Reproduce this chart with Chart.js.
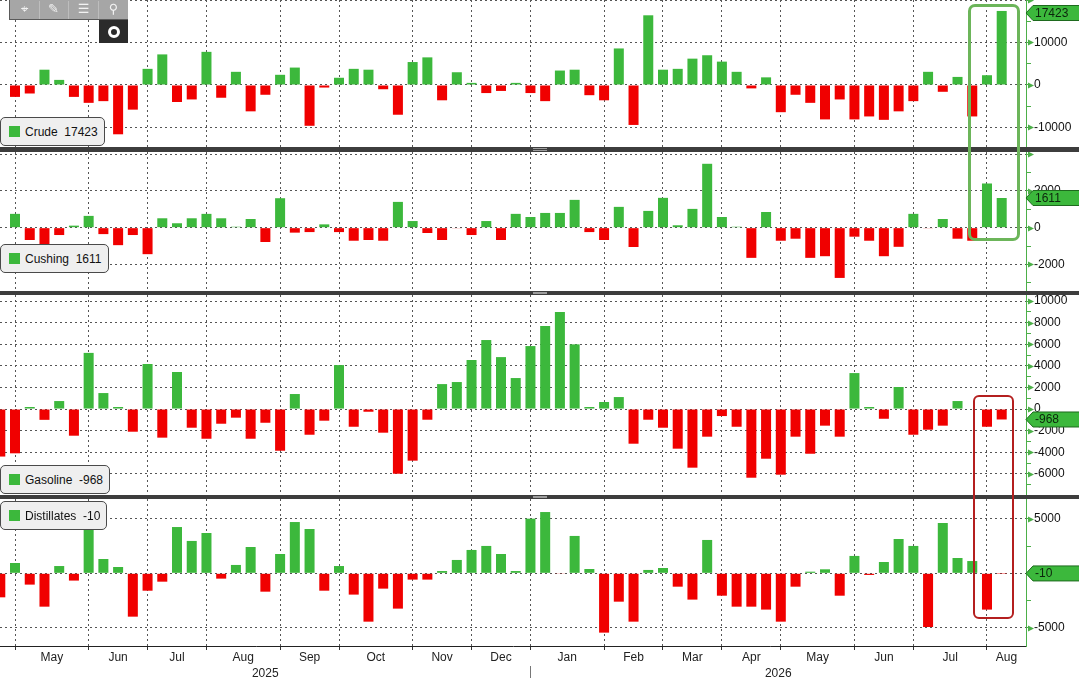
<!DOCTYPE html>
<html>
<head>
<meta charset="utf-8">
<title>Crude, Cushing, Gasoline, Distillates - weekly change</title>
<script src="https://cdn.jsdelivr.net/npm/chart.js@4.4.1/dist/chart.umd.min.js"></script>
<style>
  body { margin: 0; background: #fff; overflow: hidden; font-family: "Liberation Sans", Arial, sans-serif; }
  #wrap { position: relative; width: 1079px; height: 678px; }
  .panel { position: absolute; left: 0; width: 1079px; }
  .sep { position: absolute; left: 0; width: 1079px; background: #3d3d3d; }
  .grip { position: absolute; left: 533px; width: 14px; height: 1px; background: #9d9d9d; }
  .legend { position: absolute; left: 0; height: 29px; background: #efefef; border: 1px solid #4a4a4a;
            border-radius: 5px; box-sizing: border-box; font-size: 12px; color: #111; white-space: pre; }
  .legend .sw { position: absolute; left: 8px; top: 8px; width: 11px; height: 11px; background: #3cb83c; }
  .legend .tx { position: absolute; left: 24px; top: 7px; }
  .box { position: absolute; box-sizing: border-box; }
  #toolbar { position: absolute; left: 9px; top: 0; width: 119px; height: 20px; background: #a6a6a6;
             border-left: 1px solid #5a5a5a; border-bottom: 1px solid #5a5a5a; box-sizing: border-box; }
  #toolbar span { position: absolute; top: 1px; width: 29px; text-align: center; color: #f2f2f2;
                  font: 13px "DejaVu Sans", sans-serif; border-right: 1px solid #bdbdbd; height: 18px; }
  #snap { position: absolute; left: 99px; top: 20px; width: 29px; height: 23px; background: #2b2b2b; }
  #snap div { position: absolute; left: 9px; top: 6px; width: 6px; height: 6px; border: 3px solid #fff;
              border-radius: 50%; background: #2b2b2b; }
</style>
</head>
<body>
<div id="wrap">
  <div class="panel" style="top:0;height:147px"><canvas id="crudeChart"></canvas></div>
  <div class="sep" style="top:147px;height:5px"><div class="grip" style="top:1px"></div><div class="grip" style="top:3px"></div></div>
  <div class="panel" style="top:152px;height:139px"><canvas id="cushingChart"></canvas></div>
  <div class="sep" style="top:291px;height:4px"><div class="grip" style="top:1px"></div><div class="grip" style="top:2px"></div></div>
  <div class="panel" style="top:295px;height:200px"><canvas id="gasolineChart"></canvas></div>
  <div class="sep" style="top:495px;height:4px"><div class="grip" style="top:1px"></div><div class="grip" style="top:2px"></div></div>
  <div class="panel" style="top:499px;height:179px"><canvas id="distillatesChart"></canvas></div>

  <div id="toolbar">
    <span style="left:0">&#8982;</span><span style="left:29px">&#9998;</span><span style="left:59px">&#9776;</span><span style="left:89px;border-right:none">&#9906;</span>
  </div>
  <div id="snap"><div></div></div>

  <!-- highlight boxes -->
  <div class="box" style="left:968px;top:4px;width:52px;height:237px;border:3px solid #6cb55a;border-radius:7px"></div>
  <div class="box" style="left:973px;top:395px;width:41px;height:224px;border:2.5px solid #b41f1f;border-radius:6px"></div>
</div>

<script>
// weekly changes, one bar per week (kb)
const crude = [0, -2800, -2000, 3600, 1200, -2800, -4200, -3800, -11600, -5800, 3800,
  7200, -4000, -3400, 7800, -3000, 3100, -6200, -2300, 2400, 4100,
  -9600, -600, 1700, 3800, 3600, -1000, -7000, 5400, 6500, -3600,
  3000, 500, -1900, -1400, 500, -1900, -3800, 3400, 3600, -2400,
  -3600, 8600, -9400, 16400, 3600, 3800, 6200, 7000, 5500, 3100,
  -800, 1800, -6400, -2300, -4200, -8100, -3400, -8100, -7400, -8200,
  -6200, -3800, 3100, -1600, 1900, -7400, 2300, 17423];

const cushing = [0, 750, -670, -980, -400, 110, 640, -350, -950, -400, -1440,
  510, 240, 510, 750, 510, 50, 470, -780, 1600, -270,
  -240, 180, -240, -710, -670, -710, 1400, 360, -290, -670,
  -20, -400, 360, -670, 750, 580, 800, 800, 1510, -240,
  -670, 1130, -1050, 910, 1620, 130, 1020, 3470, 580, 50,
  -1640, 850, -710, -600, -1640, -1550, -2730, -490, -710, -1550,
  -1040, 750, -20, 470, -600, -710, 2400, 1611];

const gasoline = [-4400, -4100, 190, -1000, 740, -2470, 5200, 1480, 190, -2100, 4170,
  -2650, 3430, -1730, -2750, -1360, -800, -2750, -1270, -3860, 1390,
  -2380, -1080, 4070, -1640, -250, -2190, -5990, -4780, -990, 2310,
  2500, 4540, 6390, 4810, 2870, 5830, 7690, 8980, 5990, 190,
  650, 1110, -3210, -990, -1730, -3670, -5430, -2560, -650, -1640,
  -6360, -4600, -6080, -2560, -4140, -1540, -2560, 3330, 190, -900,
  2040, -2380, -1910, -1540, 740, 0, -1640, -968];

const distillates = [-2210, 950, -1040, -3070, 670, -670, 4260, 1320, 580, -3990, -1600,
  -770, 4260, 2980, 3710, -490, 770, 2420, -1690, 1780, 4720,
  4080, -1600, 670, -1960, -4450, -1410, -3250, -580, -580, 210,
  1230, 2150, 2520, 1780, 210, 5030, 5640, -60, 3440, 400,
  -5460, -2610, -4450, 310, 490, -1230, -2420, 3070, -2060, -3070,
  -3070, -3340, -4450, -1230, 150, 370, -2060, 1600, -150, 1040,
  3160, 2520, -4940, 4630, 1410, 1130, -3340, -10];

// x axis: week index where each month starts, month names, years
const monthStarts = [1, 6, 10, 14, 19, 23, 28, 32, 36, 41, 45, 49, 53, 58, 62, 67];
const monthNames = ['May', 'Jun', 'Jul', 'Aug', 'Sep', 'Oct', 'Nov', 'Dec',
                    'Jan', 'Feb', 'Mar', 'Apr', 'May', 'Jun', 'Jul', 'Aug'];
const yearNames = ['2025', '2026'];
const yearStart = 36;

// y axis ticks per panel (all ticks, ticks with grid + arrow, labelled ticks)
const crudeTicks = [-10000, -5000, 0, 5000, 10000, 15000, 20000];
const crudeMajor = [-10000, 0, 10000, 20000];
const crudeLabels = [-10000, 0, 10000];
const cushingTicks = [-3000, -2000, -1000, 0, 1000, 2000, 3000, 4000];
const cushingMajor = [-2000, 0, 2000, 4000];
const cushingLabels = [-2000, 0, 2000];
const gasolineTicks = [-7000, -6000, -5000, -4000, -3000, -2000, -1000, 0, 1000, 2000, 3000,
                       4000, 5000, 6000, 7000, 8000, 9000, 10000];
const gasolineMajor = [-6000, -4000, -2000, 0, 2000, 4000, 6000, 8000, 10000];
const distTicks = [-5000, -2500, 0, 2500, 5000];
const distMajor = [-5000, 0, 5000];

const FONT = '"Liberation Sans", Arial, sans-serif';
const GREEN = '#3cb83c';
const RED = '#f00000';
const GRID = '#555555';
const AXIS_GREEN = '#4caf48';
const X_MIN = -0.02, X_MAX = 69.65;

// midpoints for the month / year labels
const monthMids = monthStarts.map((s, i) => (s + (i + 1 < monthStarts.length ? monthStarts[i + 1] : X_MAX)) / 2);
const yearTicks = [(X_MIN + yearStart) / 2, yearStart, (yearStart + X_MAX) / 2];
const yearLabels = [yearNames[0], '', yearNames[1]];

// no extra padding around the plot, the axes sit flush with the panel edges
function noPad(s) {
    s.paddingTop = 0;
    s.paddingBottom = 0;
    s.paddingLeft = 0;
    s.paddingRight = 0;
}

// little arrow heads on the major y ticks + green value tag on the right axis
const tagPlugin = {
    id: 'lastTag',
    afterDraw(chart, args, opts) {
        const ctx = chart.ctx;
        const area = chart.chartArea;
        const yScale = chart.scales.y;
        const x0 = area.right;

        ctx.save();
        ctx.fillStyle = AXIS_GREEN;
        opts.major.forEach(v => {
            if (v < yScale.min || v > yScale.max) return;
            const ty = Math.round(yScale.getPixelForValue(v)) + 0.5;
            ctx.beginPath();
            ctx.moveTo(x0 + 2, ty - 3);
            ctx.lineTo(x0 + 8, ty);
            ctx.lineTo(x0 + 2, ty + 3);
            ctx.closePath();
            ctx.fill();
        });
        ctx.restore();

        const pts = chart.data.datasets[0].data;
        const last = pts[pts.length - 1].y;
        let y = yScale.getPixelForValue(last);
        y = Math.max(area.top + 13, Math.min(area.bottom - 8, y));
        const h = 7.5;
        ctx.save();
        ctx.beginPath();
        ctx.moveTo(x0, y);
        ctx.lineTo(x0 + 7, y - h);
        ctx.lineTo(chart.width + 2, y - h);
        ctx.lineTo(chart.width + 2, y + h);
        ctx.lineTo(x0 + 7, y + h);
        ctx.closePath();
        ctx.fillStyle = GREEN;
        ctx.fill();
        ctx.strokeStyle = '#1e6a1e';
        ctx.lineWidth = 1;
        ctx.stroke();
        ctx.fillStyle = '#0c260c';
        ctx.font = '12px ' + FONT;
        ctx.textBaseline = 'middle';
        ctx.textAlign = 'left';
        ctx.fillText(String(last), x0 + 9, y + 0.5);
        ctx.restore();
    }
};

function makePanel(canvasId, name, values, ticks, major, labels, top, showAxis) {
    const scales = {
        x: {
            type: 'linear',
            offset: false,
            min: X_MIN,
            max: X_MAX,
            afterBuildTicks: s => { s.ticks = monthStarts.map(v => ({ value: v })); },
            afterFit: s => { s.height = showAxis ? 4 : 0; noPad(s); },
            ticks: { display: false },
            grid: { offset: false, color: GRID, lineWidth: 1, drawTicks: showAxis, tickLength: 4, tickColor: '#333', tickBorderDash: [] },
            border: { display: showAxis, color: '#222', width: 1, dash: [2, 3] }
        },
        y: {
            position: 'right',
            min: ticks.min,
            max: ticks.max,
            afterBuildTicks: s => { s.ticks = ticks.values.map(v => ({ value: v })); },
            afterFit: s => { s.width = 53; noPad(s); },
            ticks: {
                autoSkip: false,
                padding: 3,
                color: '#111',
                font: { family: FONT, size: 12 },
                callback: v => labels.includes(v) ? String(v) : ''
            },
            grid: {
                color: c => c.tick && major.includes(c.tick.value) ? GRID : 'rgba(0,0,0,0)',
                lineWidth: 1,
                tickLength: 5,
                tickColor: AXIS_GREEN,
                tickWidth: 1,
                tickBorderDash: []
            },
            border: { display: true, color: AXIS_GREEN, width: 1, dash: [2, 3] }
        }
    };

    if (showAxis) {
        scales.xm = {
            type: 'linear',
            position: 'bottom',
            offset: false,
            weight: 1,
            min: X_MIN,
            max: X_MAX,
            afterBuildTicks: s => { s.ticks = monthMids.map(v => ({ value: v })); },
            afterFit: s => { s.height = 16; noPad(s); },
            ticks: {
                autoSkip: false, maxRotation: 0, padding: 0, color: '#222',
                font: { family: FONT, size: 12 },
                callback: (v, i) => monthNames[i]
            },
            grid: { display: false, drawTicks: false, offset: false },
            border: { display: false }
        };
        scales.xy = {
            type: 'linear',
            position: 'bottom',
            offset: false,
            weight: 2,
            min: X_MIN,
            max: X_MAX,
            afterBuildTicks: s => { s.ticks = yearTicks.map(v => ({ value: v })); },
            afterFit: s => { s.height = 12; noPad(s); },
            ticks: {
                autoSkip: false, maxRotation: 0, padding: -15, color: '#222',
                font: { family: FONT, size: 12 },
                callback: (v, i) => yearLabels[i]
            },
            grid: {
                offset: false,
                drawOnChartArea: false,
                drawTicks: true,
                tickLength: 15,
                color: 'rgba(0,0,0,0)',
                tickColor: c => c.tick && c.tick.value === yearStart ? '#777' : 'rgba(0,0,0,0)',
                tickBorderDash: []
            },
            border: { display: false }
        };
    }

    new Chart(document.getElementById(canvasId), {
        type: 'bar',
        data: {
            datasets: [{
                label: name,
                data: values.map((v, i) => ({ x: i, y: v })),
                backgroundColor: c => (c.raw && c.raw.y < 0) ? RED : GREEN,
                borderWidth: 0,
                barPercentage: 0.68,
                categoryPercentage: 1
            }]
        },
        options: {
            responsive: true,
            maintainAspectRatio: false,
            animation: false,
            layout: { padding: 0, autoPadding: false },
            plugins: {
                legend: { display: false },
                tooltip: { enabled: false },
                lastTag: { major: major }
            },
            scales: scales
        },
        plugins: [tagPlugin]
    });

    // legend box with the latest value
    const box = document.createElement('div');
    box.className = 'legend';
    box.style.top = top + 'px';
    box.innerHTML = '<div class="sw"></div><div class="tx"></div>';
    box.querySelector('.tx').textContent = name + '  ' + values[values.length - 1];
    document.getElementById('wrap').appendChild(box);
    box.style.width = (box.querySelector('.tx').offsetWidth + 32) + 'px';
}

makePanel('crudeChart', 'Crude', crude,
    { min: -14590, max: 20000, values: crudeTicks }, crudeMajor, crudeLabels, 117, false);
makePanel('cushingChart', 'Cushing', cushing,
    { min: -3440, max: 4110, values: cushingTicks }, cushingMajor, cushingLabels, 244, false);
makePanel('gasolineChart', 'Gasoline', gasoline,
    { min: -7960, max: 10560, values: gasolineTicks }, gasolineMajor, gasolineMajor, 465, false);
makePanel('distillatesChart', 'Distillates', distillates,
    { min: -6690, max: 6840, values: distTicks }, distMajor, distMajor, 501, true);
</script>
</body>
</html>
